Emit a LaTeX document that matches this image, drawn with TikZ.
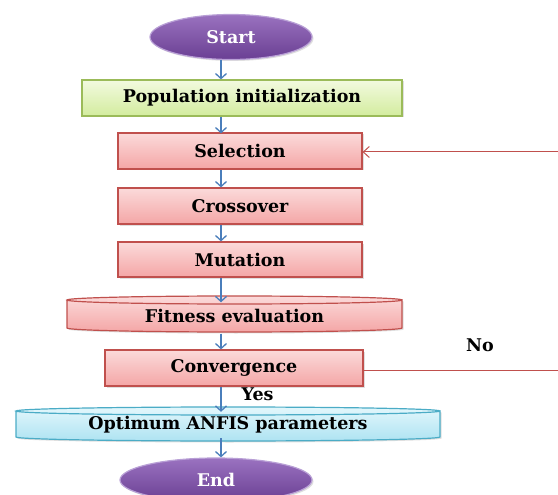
\documentclass[tikz,border=0pt]{standalone}
\usepackage{fontspec}
\setmainfont{DejaVu Serif}
\usetikzlibrary{arrows.meta,shapes.geometric,shadows}
\definecolor{arrblue}{HTML}{4A7EBB}
\definecolor{redline}{HTML}{C0504D}
\definecolor{pinktop}{HTML}{FBDADA}
\definecolor{pinkbot}{HTML}{F4A6A6}
\definecolor{greentop}{HTML}{F2FADF}
\definecolor{greenbot}{HTML}{D3EC9E}
\definecolor{greenline}{HTML}{9BBB59}
\definecolor{cyantop}{HTML}{E3F7FC}
\definecolor{cyanbot}{HTML}{AEE3F2}
\definecolor{cyanline}{HTML}{4BACC6}
\definecolor{purptop}{HTML}{9A72C0}
\definecolor{purpbot}{HTML}{6A3F93}
\definecolor{purpline}{HTML}{B9A0D6}
\tikzset{
  x=1pt,y=-1pt,
  lbl/.style={font=\bfseries\fontsize{17.5}{19}\selectfont},
  procbox/.style={draw=redline, line width=1.2pt, top color=pinktop, bottom color=pinkbot,
    inner sep=0pt, lbl, drop shadow={opacity=0.25, shadow xshift=1.5pt, shadow yshift=-1.5pt}},
  term/.style={ellipse, draw=purpline, line width=1.2pt, top color=purptop, bottom color=purpbot,
    inner sep=0pt, text=white, lbl, drop shadow={opacity=0.25, shadow xshift=1.5pt, shadow yshift=-1.5pt}},
  flow/.style={arrblue, line width=1.3pt, -{Straight Barb[length=5pt,width=11pt,line width=1.3pt]}},
  back/.style={redline, line width=1pt},
  backarr/.style={redline, line width=1pt, -{Straight Barb[length=6pt,width=11pt,line width=1pt]}},
}
\begin{document}
\begin{tikzpicture}
\useasboundingbox (0,0) rectangle (558,495);
% axis for arrows
\coordinate (ax) at (221,0);
% Start
\node[term, minimum width=162pt, minimum height=45pt] (start) at (231,37) {Start};
% Population initialization
\node[procbox, draw=greenline, top color=greentop, bottom color=greenbot,
  minimum width=320pt, minimum height=36pt] (pop) at (242,98) {Population initialization};
% Selection
\node[procbox, minimum width=244pt, minimum height=36pt] (sel) at (240,151) {Selection};
% Crossover
\node[procbox, minimum width=244pt, minimum height=36pt] (cross) at (240,206) {Crossover};
% Mutation
\node[procbox, minimum width=244pt, minimum height=35pt] (mut) at (240,259.5) {Mutation};
% Fitness evaluation (drum shape)
\path[procbox, draw=none] (67,300) -- (67,328) arc[start angle=180, end angle=360, x radius=167.5pt, y radius=4pt] -- (402,300) arc[start angle=0, end angle=180, x radius=167.5pt, y radius=4pt] -- cycle;
\draw[redline, line width=1.2pt] (67,300) -- (67,328) arc[start angle=180, end angle=360, x radius=167.5pt, y radius=4pt] -- (402,300) arc[start angle=0, end angle=-180, x radius=167.5pt, y radius=4pt] arc[start angle=180, end angle=0, x radius=167.5pt, y radius=4pt];
\node[lbl, minimum width=335pt, minimum height=36pt, inner sep=0pt] (fit) at (234.5,315.5) {Fitness evaluation};
% Convergence
\node[procbox, minimum width=258pt, minimum height=36pt] (conv) at (234,368) {Convergence};
% Optimum ANFIS parameters (drum shape)
\path[procbox, draw=none, top color=cyantop, bottom color=cyanbot] (16,411) -- (16,437) arc[start angle=180, end angle=360, x radius=212pt, y radius=4pt] -- (440,411) arc[start angle=0, end angle=180, x radius=212pt, y radius=4pt] -- cycle;
\draw[cyanline, line width=1.2pt] (16,411) -- (16,437) arc[start angle=180, end angle=360, x radius=212pt, y radius=4pt] -- (440,411) arc[start angle=0, end angle=-180, x radius=212pt, y radius=4pt] arc[start angle=180, end angle=0, x radius=212pt, y radius=4pt];
\node[lbl, minimum width=424pt, minimum height=34pt, inner sep=0pt] (opt) at (228,425) {Optimum ANFIS parameters};
% End
\node[term, minimum width=192pt, minimum height=44pt] (end) at (216,480) {End};
% Flow arrows
\draw[flow] (start.south -| ax) -- (pop.north -| ax);
\draw[flow] (pop.south -| ax) -- ([yshift=-1pt]sel.north -| ax);
\draw[flow] (sel.south -| ax) -- (cross.north -| ax);
\draw[flow] (cross.south -| ax) -- (mut.north -| ax);
\draw[flow] (mut.south -| ax) -- ([yshift=-5pt]fit.north -| ax);
\draw[flow] (fit.south -| ax) -- (conv.north -| ax);
\draw[flow] (conv.south -| ax) -- ([yshift=-4pt]opt.north -| ax);
\draw[flow] ([yshift=4pt]opt.south -| ax) -- (end.north -| ax);
% labels
\node[lbl, anchor=west] (yes) at (238,394) {Yes};
\node[lbl] (no) at (480,345) {No};
% feedback
\coordinate (re1) at (558,370);
\coordinate (re2) at (558,152);
\draw[back] (conv.east |- re1) -- (re1);
\draw[backarr] (re2) -- (sel.east |- re2);
\end{tikzpicture}
\end{document}
